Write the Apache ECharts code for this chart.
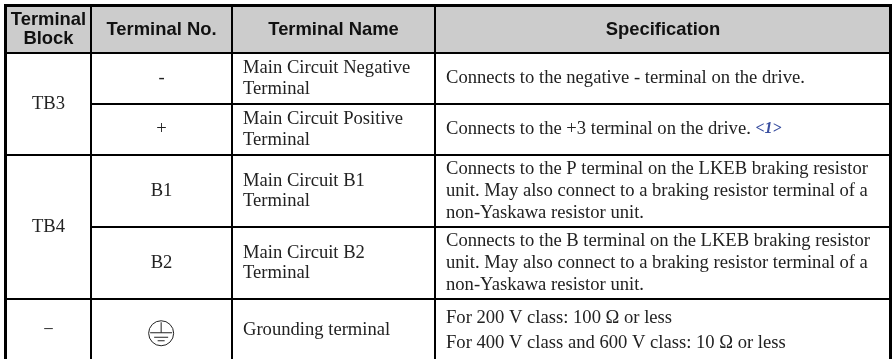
<!DOCTYPE html>
<html><head><meta charset="utf-8">
<style>html,body{margin:0;padding:0;background:#fff}#c{width:892px;height:359px}</style>
<script src="https://cdn.jsdelivr.net/npm/echarts@6/dist/echarts.min.js"></script>
</head><body><div id="c"></div>
<script>
const columns = ['Terminal\nBlock', 'Terminal No.', 'Terminal Name', 'Specification'];
const rows = ['r1', 'r2', 'r3', 'r4', 'r5'];
const terminalBlocks = [['TB3', 0, 1], ['TB4', 2, 3], ['\u2212', 4, 4]];
const terminalNos = ['-', '+', 'B1', 'B2', ''];
const terminalNames = [
  'Main Circuit Negative\nTerminal',
  'Main Circuit Positive\nTerminal',
  'Main Circuit B1\nTerminal',
  'Main Circuit B2\nTerminal',
  'Grounding terminal'
];
const specs = [
  'Connects to the negative - terminal on the drive.',
  '{main|Connects to the +3 terminal on the drive. }{ref|<1>}',
  'Connects to the P terminal on the LKEB braking resistor\nunit. May also connect to a braking resistor terminal of a\nnon-Yaskawa resistor unit.',
  'Connects to the B terminal on the LKEB braking resistor\nunit. May also connect to a braking resistor terminal of a\nnon-Yaskawa resistor unit.',
  'For 200 V class: 100 \u03a9 or less\nFor 400 V class and 600 V class: 10 \u03a9 or less'
];
const columnSizes = [84.8, 141.7, 203, 455.5];
const rowSizes = [51.5, 50.5, 72, 72.5, 62.5];
const headerSize = 47;
const specLineHeights = [21.7, 21.7, 21.7, 21.7, 25];

const serif = '"Liberation Serif"';
const sans = '"Liberation Sans"';
const bodySize = 18.6;
const bodyLabel = {fontFamily: serif, fontSize: bodySize, color: '#222', lineHeight: 20.5, overflow: 'none'};
const cells = [];
terminalBlocks.forEach(([t, a, b]) => cells.push({coord: [0, a === b ? a : [a, b]], mergeCells: a !== b, value: t, label: {...bodyLabel, align: 'center'}}));
terminalNos.forEach((t, i) => cells.push({coord: [1, i], value: t, label: {...bodyLabel, align: 'center'}}));
terminalNames.forEach((t, i) => cells.push({coord: [2, i], value: t, label: {...bodyLabel, align: 'left', position: 'insideLeft', distance: 8}}));
specs.forEach((t, i) => {
  const label = {...bodyLabel, lineHeight: specLineHeights[i], align: 'left', position: 'insideLeft', distance: 8};
  if (t.includes('{ref|')) {
    label.padding = [14, 0, 0, 3];
    label.rich = {
      main: {fontFamily: serif, fontSize: bodySize, color: '#222', lineHeight: 21.7},
      ref: {fontFamily: serif, fontStyle: 'italic', fontWeight: 'bold', fontSize: 16, color: '#3a4fa0', lineHeight: 21.7}
    };
  }
  cells.push({coord: [3, i], value: t, label});
});

const chart = echarts.init(document.getElementById('c'), null, {renderer: 'canvas'});
chart.setOption({
  animation: false,
  matrix: {
    left: 5.5, top: 5.5, width: 885, height: headerSize + rowSizes.reduce((a, b) => a + b, 0),
    backgroundStyle: {color: '#fff', borderColor: '#000', borderWidth: 3},
    x: {
      levelSize: headerSize,
      data: columns.map((c, i) => ({value: c, size: columnSizes[i]})),
      itemStyle: {color: '#cccccc', borderColor: '#000', borderWidth: 2},
      dividerLineStyle: {color: '#000', width: 2},
      label: {fontFamily: sans, fontWeight: 'bold', fontSize: 18.4, color: '#111', lineHeight: 18.5, overflow: 'none'}
    },
    y: {
      show: false,
      data: rows.map((r, i) => ({value: r, size: rowSizes[i]}))
    },
    body: {
      itemStyle: {color: '#fff', borderColor: '#000', borderWidth: 2},
      data: cells
    }
  },
  series: [{
    type: 'custom', coordinateSystem: 'matrix', silent: true,
    data: [[1, 4]],
    renderItem: (params, api) => {
      const p = api.coord([api.value(0), api.value(1)]);
      const s = {stroke: '#222', lineWidth: 1, fill: null};
      const line = (dy, w) => ({type: 'line', shape: {x1: p[0] - w, y1: p[1] + dy, x2: p[0] + w, y2: p[1] + dy}, style: s});
      return {type: 'group', children: [
        {type: 'circle', shape: {cx: p[0], cy: p[1] + 3, r: 12.5}, style: s},
        {type: 'line', shape: {x1: p[0], y1: p[1] - 8, x2: p[0], y2: p[1] + 2.5}, style: s},
        line(2.5, 11), line(7, 7), line(10.5, 3.5)
      ]};
    }
  }]
});
</script></body></html>
